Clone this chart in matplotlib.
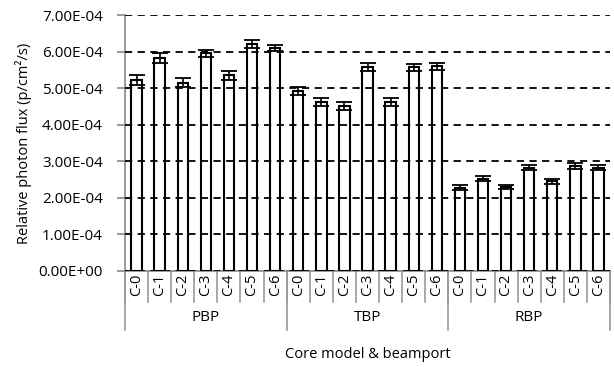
import matplotlib.pyplot as plt
from matplotlib.ticker import FuncFormatter
import numpy as np

plt.rcParams['font.family'] = ['Open Sans', 'DejaVu Sans']

# data, units of 1e-4 p/cm2/s
groups = ['PBP', 'TBP', 'RBP']
cores = ['C-0', 'C-1', 'C-2', 'C-3', 'C-4', 'C-5', 'C-6']
pbp = [5.22, 5.82, 5.15, 5.95, 5.35, 6.22, 6.10]
tbp = [4.92, 4.62, 4.52, 5.57, 4.62, 5.57, 5.60]
rbp = [2.28, 2.52, 2.30, 2.83, 2.45, 2.87, 2.83]
pbp_err = [0.13, 0.13, 0.12, 0.10, 0.13, 0.11, 0.09]
tbp_err = [0.10, 0.11, 0.11, 0.11, 0.11, 0.10, 0.10]
rbp_err = [0.07, 0.07, 0.06, 0.07, 0.06, 0.07, 0.07]

values = np.array(pbp + tbp + rbp) * 1e-4
errs = np.array(pbp_err + tbp_err + rbp_err) * 1e-4
x = np.arange(len(values))

fig = plt.figure(figsize=(6.14, 3.67), dpi=100)
ax = fig.add_axes([0.2036, 0.2616, 0.7899, 0.6975])

ax.bar(x, values, width=0.45, facecolor='none', edgecolor='black',
       linewidth=1.5, zorder=3)
ax.errorbar(x, values, yerr=errs, fmt='none', ecolor='black',
            elinewidth=1.2, capsize=5.5, capthick=1.3, zorder=4)

ax.set_ylim(0, 7e-4)
ax.set_yticks(np.arange(0, 8) * 1e-4)
ax.yaxis.set_major_formatter(FuncFormatter(lambda v, p: f'{v:.2E}'))
ax.set_xlim(-0.5, len(values) - 0.5)
ax.set_xticks([])
ax.grid(axis='y', color='black', linestyle=(0, (4, 3)), linewidth=1.3, zorder=2)
ax.set_axisbelow(False)

for s in ['top', 'right']:
    ax.spines[s].set_visible(False)
for s in ['left', 'bottom']:
    ax.spines[s].set_color('#888888')
    ax.spines[s].set_linewidth(1.2)
ax.tick_params(axis='y', colors='#888888', length=6, width=1.2, pad=10,
               labelcolor='black', labelsize=11)

ax.set_ylabel('Relative photon flux (p/cm²/s)', fontsize=10.5)
ax.yaxis.set_label_coords(-0.192, 0.5)

# multi-level category axis
trans = ax.get_xaxis_transform()
px = 1 / (ax.get_position().height * fig.get_figheight() * fig.dpi)
for i, lab in enumerate(cores * len(groups)):
    ax.text(i, -3 * px, lab, rotation=90, ha='center', va='top',
            fontsize=10.5, transform=trans)
for i in range(len(values) + 1):
    ax.plot([i - 0.5, i - 0.5], [0, -31 * px], color='#999999', lw=1.2,
            transform=trans, clip_on=False)
for g, name in enumerate(groups):
    ax.plot([g * 7 - 0.5, g * 7 - 0.5], [0, -59 * px], color='#999999',
            lw=1.2, transform=trans, clip_on=False)
    ax.text(g * 7 + 3, -47 * px, name, ha='center', va='center',
            fontsize=11, transform=trans)
ax.plot([len(values) - 0.5] * 2, [0, -59 * px], color='#999999', lw=1.2,
        transform=trans, clip_on=False)

ax.text(0.5, -84 * px, 'Core model & beamport', ha='center', va='center',
        fontsize=10.5, transform=ax.transAxes)

fig.savefig('out.png', dpi=100)
